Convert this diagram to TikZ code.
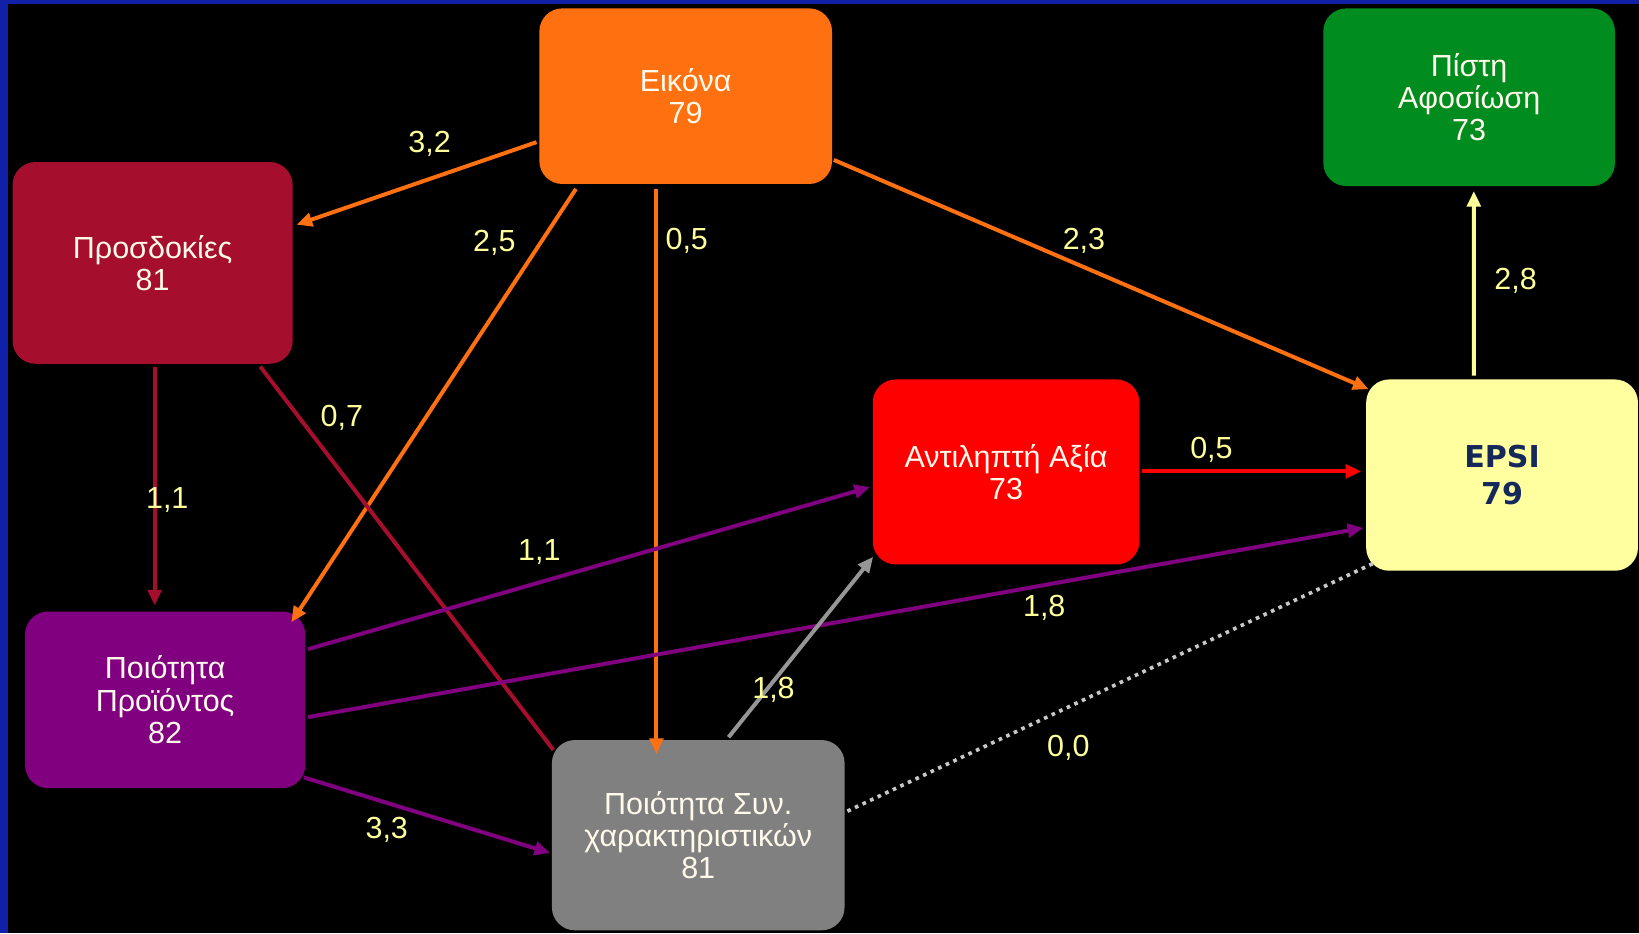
\documentclass[tikz,border=0pt]{standalone}
\usepackage{fontspec}
\setmainfont{Liberation Sans}
\newfontfamily\epsifont{DejaVu Sans}
\usetikzlibrary{arrows.meta,calc}
\definecolor{bgblue}{RGB}{16,32,168}
\definecolor{corange}{RGB}{255,112,16}
\definecolor{cexp}{RGB}{165,15,45}
\definecolor{cgreen}{RGB}{0,140,30}
\definecolor{cyell}{RGB}{255,255,160}
\definecolor{cred}{RGB}{255,0,0}
\definecolor{cpurp}{RGB}{128,0,128}
\definecolor{cgray}{RGB}{128,128,128}
\definecolor{cgrayline}{RGB}{150,150,150}
\definecolor{cdot}{RGB}{200,200,200}
\definecolor{lbl}{RGB}{255,255,153}
\definecolor{navy}{RGB}{20,40,90}
\definecolor{txtw}{RGB}{255,250,235}
\begin{document}
\begin{tikzpicture}[x=0.1mm,y=-0.1mm,
  box/.style={rounded corners=2.2mm, inner sep=0pt, align=center, text=txtw,
    font=\fontsize{8.3}{8.8}\selectfont},
  lab/.style={text=lbl, inner sep=0pt, font=\fontsize{8.3}{8.8}\selectfont},
  conn/.style={line width=0.38mm, -{Triangle[length=1.5mm,width=1.3mm]}},
  plainline/.style={line width=0.38mm},
  dotline/.style={line width=0.35mm, cdot, dash pattern=on 0.35mm off 0.45mm},
]
\useasboundingbox (0,0) rectangle (1568,893);
\clip (0,0) rectangle (1568,893);
\fill[black] (0,0) rectangle (1568,893);
\fill[bgblue] (0,0) rectangle (7.6,893);
\fill[bgblue] (0,0) rectangle (1568,3.5);

% nodes
\node[box, fill=corange, minimum width=28mm, minimum height=16.8mm] (eik) at (656,92) {Εικόνα\\79};
\node[box, fill=cexp, minimum width=26.8mm, minimum height=19.3mm] (pro) at (146,251.5) {Προσδοκίες\\81};
\node[box, fill=cgreen, minimum width=27.9mm, minimum height=17mm] (pis) at (1405.5,93) {Πίστη\\Αφοσίωση\\73};
\node[box, fill=cyell, text=navy, font=\epsifont\bfseries\fontsize{8.2}{10}\selectfont,
  minimum width=26mm, minimum height=18.3mm] (epsi) at (1437,454.5) {EPSI\\79};
\node[box, fill=cred, minimum width=25.5mm, minimum height=17.7mm] (ant) at (962.5,451.5) {Αντιληπτή Αξία\\73};
\node[box, fill=cpurp, minimum width=26.8mm, minimum height=16.9mm] (pp) at (158,669.5) {Ποιότητα\\Προϊόντος\\82};
\node[box, fill=cgray, minimum width=28mm, minimum height=18.2mm] (ps) at (668,799) {Ποιότητα Συν.\\χαρακτηριστικών\\81};

% connectors
\draw[conn, corange] ($(eik.west)+(-2,44)$) -- ($(pro.east)+(3,-36.5)$);
\draw[conn, corange] ($(eik.south)+(-105,4)$) -- ($(pp.north east)+(-14,11)$);
\draw[conn, corange] ($(eik.south)+(-28,4)$) -- ($(ps.north)+(-40,14)$);
\draw[conn, corange] ($(eik.east)+(1,61)$) -- ($(epsi.north west)+(3,10)$);
\draw[conn, cexp] ($(pro.south)+(2,2)$) -- ($(pp.north)+(-10,-5)$);
\draw[plainline, cexp] ($(pro.south)+(103,2)$) -- ($(ps.north west)+(2,10)$);
\draw[conn, cpurp] ($(pp.east)+(2,-48.5)$) -- ($(ant.west)+(-2,14.5)$);
\draw[conn, cpurp] ($(pp.east)+(2,16.5)$) -- ($(epsi.west)+(-2,50.5)$);
\draw[conn, cpurp] ($(pp.south east)+(-2,-11)$) -- ($(ps.west)+(-1,17)$);
\draw[conn, cgrayline] ($(ps.north)+(29,-2)$) -- ($(ant.south west)+(1,-8)$);
\draw[dotline] ($(ps.east)+(2,-23)$) -- ($(epsi.south west)+(8,-8)$);
\draw[conn, cred] ($(ant.east)+(2,-0.5)$) -- ($(epsi.west)+(-4,-3.5)$);
\draw[conn, lbl] ($(epsi.north)+(-27,-3)$) -- ($(pis.south)+(4.5,4)$);

% labels
\node[lab] (l1) at (411,138) {3,2};
\node[lab] (l2) at (473,232) {2,5};
\node[lab] (l3) at (657,230) {0,5};
\node[lab] (l4) at (1037,230) {2,3};
\node[lab] (l5) at (160,478) {1,1};
\node[lab] (l6) at (327,400) {0,7};
\node[lab] (l7) at (516,528) {1,1};
\node[lab] (l8) at (999,581) {1,8};
\node[lab] (l9) at (370,794) {3,3};
\node[lab] (l10) at (740,660) {1,8};
\node[lab] (l11) at (1022,715) {0,0};
\node[lab] (l12) at (1159,430) {0,5};
\node[lab] (l13) at (1450,269) {2,8};
\end{tikzpicture}
\end{document}
